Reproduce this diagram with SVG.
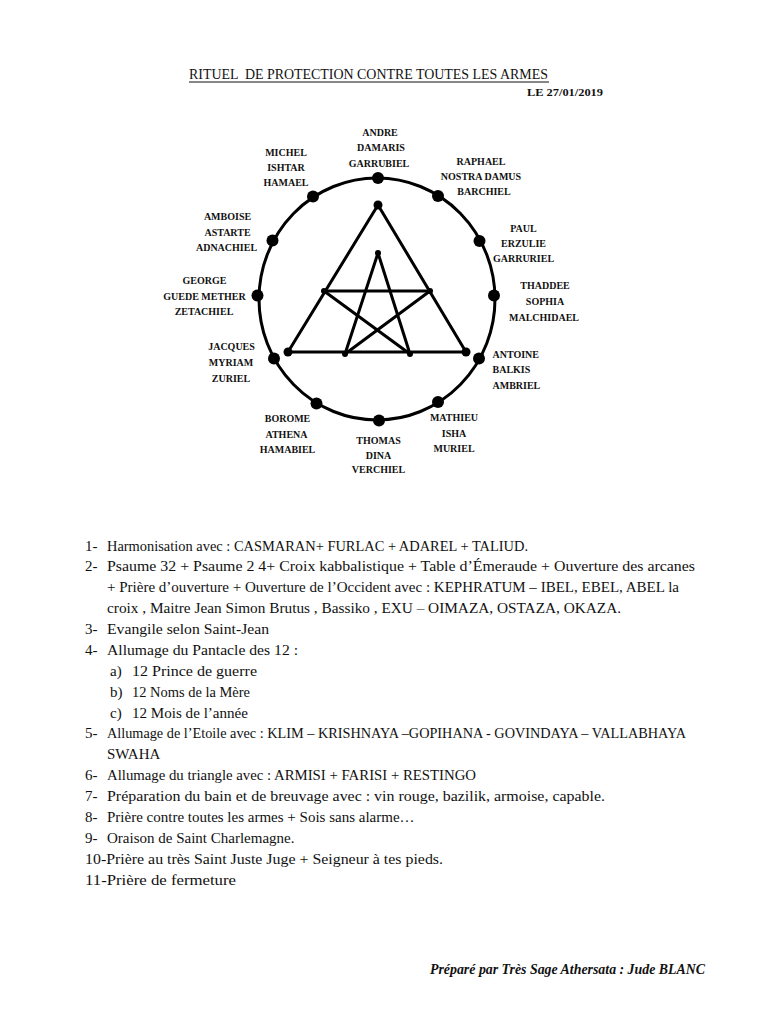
<svg xmlns="http://www.w3.org/2000/svg" width="768" height="1024" viewBox="0 0 768 1024">
<style>
.lbl{font-family:"Liberation Serif","Times New Roman",serif;font-weight:bold;font-size:10px;fill:#111;text-anchor:middle}
.lbl.l{text-anchor:start}
.ln{stroke:#000;stroke-width:3;stroke-linecap:round;fill:none}
.txt{font-family:"Liberation Serif","Times New Roman",serif;font-size:15px;fill:#111}
.dot{fill:#000}
</style>
<rect width="768" height="1024" fill="#fff"/>
<g id="title">
<text x="189" y="79" xml:space="preserve" font-family="Liberation Serif, serif" font-size="14" fill="#111" textLength="359" lengthAdjust="spacingAndGlyphs">RITUEL  DE PROTECTION CONTRE TOUTES LES ARMES</text>
<line x1="189" y1="82" x2="549" y2="82" stroke="#111" stroke-width="1"/>
<text x="527" y="96" font-family="Liberation Serif, serif" font-weight="bold" font-size="11" fill="#111" textLength="76" lengthAdjust="spacingAndGlyphs">LE 27/01/2019</text>
</g>
<g id="circle">
<ellipse cx="377" cy="299" rx="118" ry="121" class="ln" stroke-width="3.5"/>
</g>
<g id="connectors">
<polygon points="378,205 288,352 466,352" class="ln" stroke-linejoin="round"/>
<line x1="324" y1="291" x2="430" y2="291" class="ln"/>
<line x1="324" y1="291" x2="410" y2="354" class="ln"/>
<line x1="430" y1="291" x2="345" y2="354" class="ln"/>
<line x1="378" y1="253" x2="345" y2="354" class="ln"/>
<line x1="378" y1="253" x2="410" y2="354" class="ln"/>
</g>
<g id="figure-dots">
<circle cx="378" cy="205" r="4.5" class="dot"/>
<circle cx="288" cy="352" r="4.5" class="dot"/>
<circle cx="466" cy="352" r="4.5" class="dot"/>
<circle cx="378" cy="253" r="3" class="dot"/>
<circle cx="324" cy="291" r="3" class="dot"/>
<circle cx="430" cy="291" r="3" class="dot"/>
<circle cx="345" cy="354" r="3" class="dot"/>
<circle cx="410" cy="354" r="3" class="dot"/>
</g>
<g id="n-andre"><circle cx="378" cy="178" r="6" class="dot"/><text class="lbl" x="380" y="135.5">ANDRE</text><text class="lbl" x="381" y="151">DAMARIS</text><text class="lbl" x="379" y="166.5">GARRUBIEL</text></g>
<g id="n-raphael"><circle cx="438" cy="196" r="6" class="dot"/><text class="lbl" x="481" y="164.5">RAPHAEL</text><text class="lbl" x="481" y="180">NOSTRA DAMUS</text><text class="lbl" x="484" y="195">BARCHIEL</text></g>
<g id="n-paul"><circle cx="479.5" cy="241" r="6" class="dot"/><text class="lbl" x="523.5" y="231.5">PAUL</text><text class="lbl" x="523.5" y="247">ERZULIE</text><text class="lbl" x="523.5" y="262">GARRURIEL</text></g>
<g id="n-thaddee"><circle cx="494" cy="295.5" r="6" class="dot"/><text class="lbl" x="545" y="288.5">THADDEE</text><text class="lbl" x="545" y="305">SOPHIA</text><text class="lbl" x="544" y="320.5">MALCHIDAEL</text></g>
<g id="n-antoine"><circle cx="479" cy="358.5" r="6" class="dot"/><text class="lbl l" x="492.5" y="357.5">ANTOINE</text><text class="lbl l" x="492.5" y="373">BALKIS</text><text class="lbl l" x="492.5" y="388.5">AMBRIEL</text></g>
<g id="n-mathieu"><circle cx="438" cy="402" r="6" class="dot"/><text class="lbl" x="454" y="420.5">MATHIEU</text><text class="lbl" x="454" y="436.5">ISHA</text><text class="lbl" x="454" y="451.5">MURIEL</text></g>
<g id="n-thomas"><circle cx="379" cy="420.5" r="6" class="dot"/><text class="lbl" x="378.5" y="443.5">THOMAS</text><text class="lbl" x="378.5" y="458.5">DINA</text><text class="lbl" x="378.5" y="472.5">VERCHIEL</text></g>
<g id="n-borome"><circle cx="316.5" cy="403.5" r="6" class="dot"/><text class="lbl" x="287.5" y="421.5">BOROME</text><text class="lbl" x="286.5" y="437.5">ATHENA</text><text class="lbl" x="287.5" y="453">HAMABIEL</text></g>
<g id="n-jacques"><circle cx="274" cy="358.5" r="6" class="dot"/><text class="lbl" x="231.5" y="350">JACQUES</text><text class="lbl" x="231" y="365.5">MYRIAM</text><text class="lbl" x="231" y="381.5">ZURIEL</text></g>
<g id="n-george"><circle cx="257.5" cy="295.5" r="6" class="dot"/><text class="lbl" x="204.5" y="283.5">GEORGE</text><text class="lbl" x="204.5" y="299.5">GUEDE METHER</text><text class="lbl" x="204" y="315">ZETACHIEL</text></g>
<g id="n-amboise"><circle cx="272.5" cy="240.5" r="6" class="dot"/><text class="lbl" x="227.5" y="220">AMBOISE</text><text class="lbl" x="227.5" y="235.5">ASTARTE</text><text class="lbl" x="226.5" y="250.5">ADNACHIEL</text></g>
<g id="n-michel"><circle cx="313" cy="196.5" r="6" class="dot"/><text class="lbl" x="286" y="155.5">MICHEL</text><text class="lbl" x="286" y="170.5">ISHTAR</text><text class="lbl" x="286" y="185.5">HAMAEL</text></g>
<g id="list" class="txt">
<text x="85" y="551">1-</text><text x="107" y="551" textLength="421" lengthAdjust="spacingAndGlyphs">Harmonisation avec : CASMARAN+ FURLAC + ADAREL + TALIUD.</text>
<text x="85" y="571">2-</text><text x="107" y="571" textLength="588" lengthAdjust="spacingAndGlyphs">Psaume 32 + Psaume 2 4+ Croix kabbalistique + Table d’Émeraude + Ouverture des arcanes</text>
<text x="107" y="592" textLength="572" lengthAdjust="spacingAndGlyphs">+ Prière d’ouverture + Ouverture de l’Occident avec : KEPHRATUM – IBEL, EBEL, ABEL la</text>
<text x="107" y="613" textLength="514" lengthAdjust="spacingAndGlyphs">croix , Maitre Jean Simon Brutus , Bassiko , EXU – OIMAZA, OSTAZA, OKAZA.</text>
<text x="85" y="634">3-</text><text x="107" y="634" textLength="162" lengthAdjust="spacingAndGlyphs">Evangile selon Saint-Jean</text>
<text x="85" y="655">4-</text><text x="107" y="655" textLength="191" lengthAdjust="spacingAndGlyphs">Allumage du Pantacle des 12 :</text>
<text x="110" y="676">a)</text><text x="132" y="676" textLength="125" lengthAdjust="spacingAndGlyphs">12 Prince de guerre</text>
<text x="110" y="697">b)</text><text x="132" y="697" textLength="118" lengthAdjust="spacingAndGlyphs">12 Noms de la Mère</text>
<text x="110" y="718">c)</text><text x="132" y="718" textLength="116" lengthAdjust="spacingAndGlyphs">12 Mois de l’année</text>
<text x="85" y="738">5-</text><text x="107" y="738" textLength="579" lengthAdjust="spacingAndGlyphs">Allumage de l’Etoile avec : KLIM – KRISHNAYA –GOPIHANA - GOVINDAYA – VALLABHAYA</text>
<text x="107" y="759">SWAHA</text>
<text x="85" y="780">6-</text><text x="107" y="780" textLength="369" lengthAdjust="spacingAndGlyphs">Allumage du triangle avec : ARMISI + FARISI + RESTINGO</text>
<text x="85" y="801">7-</text><text x="107" y="801" textLength="498" lengthAdjust="spacingAndGlyphs">Préparation du bain et de breuvage avec : vin rouge, bazilik, armoise, capable.</text>
<text x="85" y="822">8-</text><text x="107" y="822">Prière contre toutes les armes + Sois sans alarme…</text>
<text x="85" y="843">9-</text><text x="107" y="843">Oraison de Saint Charlemagne.</text>
<text x="85" y="864" textLength="358" lengthAdjust="spacingAndGlyphs">10-Prière au très Saint Juste Juge + Seigneur à tes pieds.</text>
<text x="85" y="885" textLength="151" lengthAdjust="spacingAndGlyphs">11-Prière de fermeture</text>
</g>
<g id="footer">
<text x="430" y="974" font-family="Liberation Serif, serif" font-weight="bold" font-style="italic" font-size="14" fill="#111" textLength="275" lengthAdjust="spacingAndGlyphs">Préparé par Très Sage Athersata : Jude BLANC</text>
</g>
</svg>
